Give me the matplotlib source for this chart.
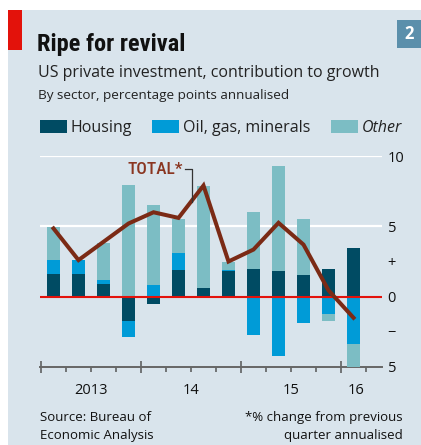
import numpy as np
import matplotlib
matplotlib.use("Agg")
import matplotlib.pyplot as plt
import matplotlib.patches as patches
import matplotlib.transforms as mtransforms

# quarterly contributions, 2013Q1 - 2016Q1, percentage points
housing = [1.6, 1.6, 0.9, -1.7, -0.55, 1.9, 0.65, 1.85, 1.95, 1.8, 1.55, 2.0, 3.45]
oil = [1.0, 1.0, 0.3, -1.2, 0.85, 1.2, 0.0, 0.08, -2.75, -4.2, -1.85, -1.2, -3.4]
other = [2.35, 0.0, 2.65, 7.95, 5.7, 2.4, 7.25, 0.5, 4.05, 7.5, 3.95, -0.5, -1.65]
total = [4.85, 2.6, 3.9, 5.2, 6.0, 5.6, 7.9, 2.5, 3.35, 5.25, 3.7, 0.45, -1.5]

years = ["2013", "14", "15", "16"]
year_pos = [1.5, 5.5, 9.5, 12.1]
ytick_vals = [10, 5, 2.5, 0, -2.5, -5]
ytick_labels = ["10", "5", "+", "0", "\u2212", "5"]

BG = "#d9e4ec"
C_HOUSING = "#004b63"
C_OIL = "#009bd7"
C_OTHER = "#7cbdc4"
C_TOTAL = "#7b2a15"
RED = "#e3120b"
NARROW = ["Roboto Condensed", "Liberation Sans Narrow", "DejaVu Sans"]

plt.rcParams["font.family"] = ["Open Sans", "DejaVu Sans"]

W, H = 421, 445
fig = plt.figure(figsize=(W / 100, H / 100), dpi=100, facecolor="white")

def fx(px):
    return px / W

def fy(py):
    return 1 - py / H

# panel background and header furniture
fig.patches.append(patches.Rectangle((fx(8), 0), 1 - fx(8), fy(10), transform=fig.transFigure,
                                     facecolor=BG, edgecolor="none", zorder=-5))
fig.patches.append(patches.Rectangle((fx(8), fy(50)), fx(14), fy(10) - fy(50), transform=fig.transFigure,
                                     facecolor=RED, edgecolor="none", zorder=1))
fig.patches.append(patches.Rectangle((fx(397), fy(48)), fx(24), fy(20) - fy(48), transform=fig.transFigure,
                                     facecolor="#5b8fab", edgecolor="none", zorder=1))
fig.text(fx(409), fy(34), "2", color="white", fontsize=12, fontweight="bold", ha="center", va="center")

fig.text(fx(37), fy(51), "Ripe for revival", fontsize=17.6, fontweight="bold", fontstretch="condensed",
         family=NARROW, va="baseline", color="#111111")
fig.text(fx(38), fy(77), "US private investment, contribution to growth", fontsize=11.5,
         va="baseline", color="#222222")
fig.text(fx(38), fy(99), "By sector, percentage points annualised", fontsize=9.7,
         va="baseline", color="#222222")

# legend
legend_items = [("Housing", C_HOUSING, 40, "normal"),
                ("Oil, gas, minerals", C_OIL, 152, "normal"),
                ("Other", C_OTHER, 331, "italic")]
for name, col, x0, style in legend_items:
    fig.patches.append(patches.Rectangle((fx(x0), fy(133)), fx(27), fy(120) - fy(133),
                                         transform=fig.transFigure, facecolor=col, edgecolor="none"))
    fig.text(fx(x0 + 31), fy(132), name, fontsize=11.5, style=style, va="baseline", color="#222222")

# plot area
ax = fig.add_axes([fx(40), fy(367), fx(342), fy(156) - fy(367)])
ax.set_facecolor(BG)
x = np.arange(len(housing))
width = 0.52

pos_base = np.zeros(len(x))
neg_base = np.zeros(len(x))
for vals, col in [(housing, C_HOUSING), (oil, C_OIL), (other, C_OTHER)]:
    v = np.array(vals)
    bottoms = np.where(v >= 0, pos_base, neg_base)
    ax.bar(x, v, width, bottom=bottoms, color=col, zorder=3, linewidth=0)
    pos_base += np.where(v >= 0, v, 0)
    neg_base += np.where(v < 0, v, 0)

for g in [5, 10]:
    ax.axhline(g, color="white", lw=1.6, zorder=1)
ax.axhline(0, color=RED, lw=1.5, zorder=4)

ax.plot(x, total, color=C_TOTAL, lw=2.9, zorder=5, solid_joinstyle="miter")

# TOTAL label with leader line
ax.text(5.2, 9.07, "TOTAL*", fontsize=12.5, color="#8a3520", ha="right", va="center",
        family=NARROW, fontstretch="condensed", fontweight="medium", zorder=6)
ax.plot([5.25, 5.55, 5.55], [9.07, 9.07, 6.74], color="#333333", lw=0.9, zorder=6)

ax.set_xlim(-0.54, 13.14)
ax.set_ylim(-5, 10)

for side in ["top", "left", "right"]:
    ax.spines[side].set_visible(False)
ax.spines["bottom"].set_color("#666666")
ax.spines["bottom"].set_linewidth(1.4)

ax.set_xticks([-0.5, 3.5, 7.5, 11.5])
ax.set_xticks([b + 0.5 for b in range(13) if (b + 0.5) not in (-0.5, 3.5, 7.5, 11.5)], minor=True)
ax.set_xticklabels([])
ax.tick_params(axis="x", which="major", direction="inout", length=9, width=1.1, color="#555555")
ax.tick_params(axis="x", which="minor", direction="out", length=3.5, width=1.1, color="#555555")

ax.yaxis.tick_right()
ax.set_yticks(ytick_vals)
ax.set_yticklabels(ytick_labels)
ax.tick_params(axis="y", length=0, pad=4, labelsize=10.5, labelcolor="#111111")

trans = mtransforms.blended_transform_factory(ax.transData, fig.transFigure)
for lab, xp in zip(years, year_pos):
    ax.text(xp, fy(394), lab, transform=trans, ha="center", va="baseline", fontsize=10.5,
            color="#111111")

# footer
fig.text(fx(40), fy(421), "Source: Bureau of", fontsize=9.5, va="baseline", color="#111111")
fig.text(fx(40), fy(439), "Economic Analysis", fontsize=9.5, va="baseline", color="#111111")
fig.text(fx(403), fy(421), "*% change from previous", fontsize=9.5, va="baseline", ha="right",
         color="#111111")
fig.text(fx(403), fy(439), "quarter annualised", fontsize=9.5, va="baseline", ha="right",
         color="#111111")

fig.savefig("out.png", dpi=100, facecolor="white")
